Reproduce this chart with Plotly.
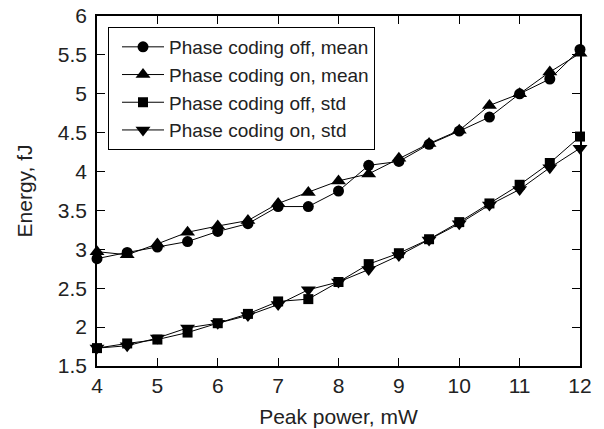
import plotly.graph_objects as go

power = [4, 4.5, 5, 5.5, 6, 6.5, 7, 7.5, 8, 8.5, 9, 9.5, 10, 10.5, 11, 11.5, 12]
off_mean = [2.88, 2.96, 3.03, 3.10, 3.23, 3.33, 3.55, 3.55, 3.75, 4.08, 4.13, 4.35, 4.52, 4.70, 5.00, 5.19, 5.57]
on_mean = [2.97, 2.93, 3.07, 3.22, 3.30, 3.37, 3.59, 3.73, 3.88, 3.97, 4.17, 4.36, 4.53, 4.85, 5.00, 5.28, 5.52]
off_std = [1.73, 1.79, 1.84, 1.93, 2.05, 2.17, 2.33, 2.36, 2.58, 2.81, 2.95, 3.13, 3.35, 3.59, 3.83, 4.11, 4.45]
on_std = [1.73, 1.76, 1.86, 1.99, 2.05, 2.15, 2.29, 2.48, 2.58, 2.74, 2.92, 3.12, 3.33, 3.57, 3.77, 4.05, 4.30]

names = ["Phase coding off, mean", "Phase coding on, mean",
         "Phase coding off, std", "Phase coding on, std"]
series = [off_mean, on_mean, off_std, on_std]
symbols = ["circle", "triangle-up", "square", "triangle-down"]
sizes = [11, 13, 10, 13]

fig = go.Figure()
for name, ys, sym, sz in zip(names, series, symbols, sizes):
    fig.add_trace(go.Scatter(
        x=power, y=ys, name=name, mode="lines+markers", cliponaxis=False,
        line=dict(color="black", width=1),
        marker=dict(symbol=sym, size=sz, color="black"),
    ))

font = "Liberation Sans, Arial, sans-serif"
axis_common = dict(
    showline=True, linecolor="black", linewidth=1.5, mirror="ticks",
    ticks="inside", ticklen=8, tickwidth=1, tickcolor="black",
    showgrid=False, zeroline=False, automargin=False,
    tickfont=dict(family=font, size=21, color="#222"),
)
fig.update_layout(
    width=604, height=429,
    margin=dict(l=97, r=24, t=16, b=63),
    paper_bgcolor="white", plot_bgcolor="white",
    font=dict(family=font, color="#222"),
    xaxis=dict(range=[4, 12], dtick=1,
               title=dict(text="Peak power, mW", font=dict(size=21), standoff=13),
               **axis_common),
    yaxis=dict(range=[1.5, 6], dtick=0.5, ticklabelstandoff=4,
               title=dict(text="Energy, fJ", font=dict(size=21), standoff=19),
               **axis_common),
    legend=dict(x=0.0228, y=0.9686, xanchor="left", yanchor="top",
                bordercolor="black", borderwidth=1, bgcolor="white",
                font=dict(family=font, size=19, color="#222"),
                indentation=8, itemwidth=42,
                tracegroupgap=0),
    showlegend=True,
)
fig.write_html("out.html")
